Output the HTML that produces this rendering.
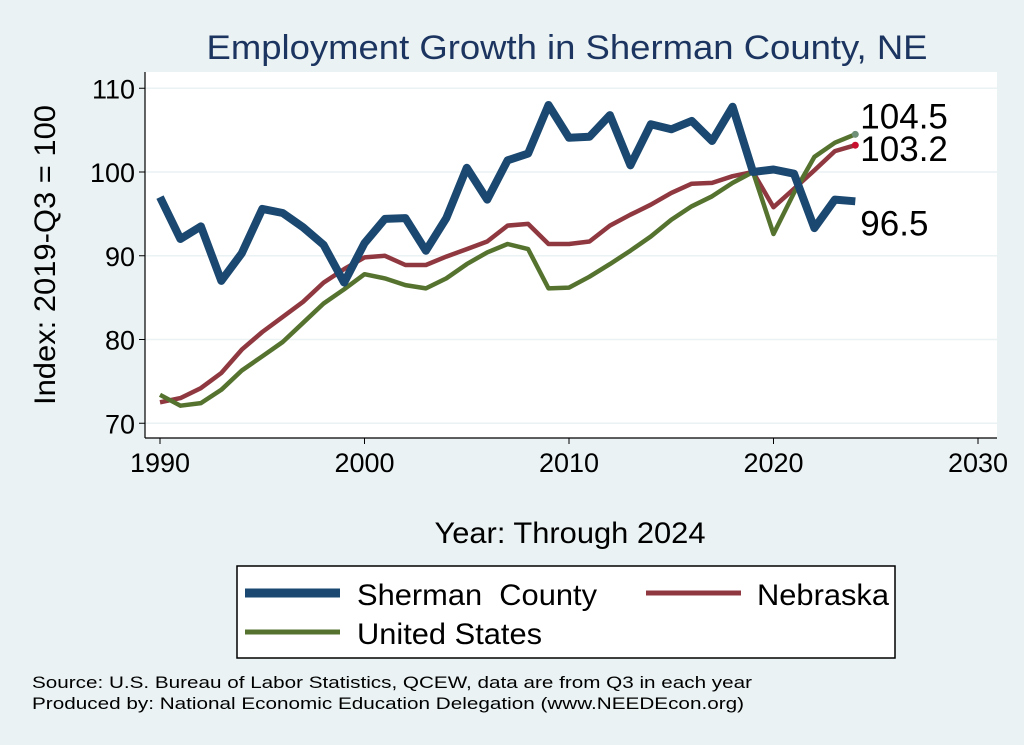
<!DOCTYPE html>
<html><head><meta charset="utf-8"><style>
body{margin:0;background:#eaf2f3;}
svg{display:block;font-family:"Liberation Sans",Arial,sans-serif;}
</style></head><body>
<svg id="chart" width="1024" height="745" viewBox="0 0 1024 745">
<rect x="0" y="0" width="1024" height="745" fill="#eaf2f3"/>
<text x="567" y="59" font-size="34" fill="#1c3560" text-anchor="middle" textLength="721" lengthAdjust="spacingAndGlyphs">Employment Growth in Sherman County, NE</text>
<rect x="145" y="72" width="852" height="366" fill="#fff"/>
<g id="grid"></g>
<g id="axes"></g>
<g id="series"></g>
<text transform="translate(55,255) rotate(-90)" font-size="30" text-anchor="middle" fill="#000" textLength="300" lengthAdjust="spacingAndGlyphs">Index: 2019-Q3 = 100</text>
<text x="570" y="543" font-size="30" text-anchor="middle" fill="#000" textLength="271" lengthAdjust="spacingAndGlyphs">Year: Through 2024</text>
<g>
<rect x="237" y="566" width="658" height="92" fill="#fff" stroke="#000" stroke-width="1.5"/>
<line x1="245" y1="593" x2="340" y2="593" stroke="#1a4870" stroke-width="9"/>
<text x="357" y="605" font-size="30" textLength="240" lengthAdjust="spacingAndGlyphs">Sherman&#160; County</text>
<line x1="646" y1="593" x2="741" y2="593" stroke="#903840" stroke-width="5"/>
<text x="757" y="605" font-size="30" textLength="132" lengthAdjust="spacingAndGlyphs">Nebraska</text>
<line x1="245" y1="632" x2="340" y2="632" stroke="#55732f" stroke-width="5"/>
<text x="357" y="644" font-size="30" textLength="185" lengthAdjust="spacingAndGlyphs">United States</text>
</g>
<text x="32" y="688" font-size="17" textLength="720" lengthAdjust="spacingAndGlyphs">Source: U.S. Bureau of Labor Statistics, QCEW, data are from Q3 in each year</text>
<text x="32" y="709" font-size="17" textLength="712" lengthAdjust="spacingAndGlyphs">Produced by: National Economic Education Delegation (www.NEEDEcon.org)</text>
</svg>
<script>
const years = [1990,1991,1992,1993,1994,1995,1996,1997,1998,1999,2000,2001,2002,2003,2004,2005,2006,2007,2008,2009,2010,2011,2012,2013,2014,2015,2016,2017,2018,2019,2020,2021,2022,2023,2024];
const sherman = [97,92,93.5,87,90.3,95.6,95.1,93.4,91.3,86.8,91.5,94.4,94.5,90.6,94.5,100.5,96.7,101.4,102.2,108,104.1,104.2,106.8,100.8,105.7,105.1,106.1,103.7,107.8,100,100.3,99.8,93.3,96.7,96.5];
const nebraska = [72.5,73.0,74.2,76.0,78.8,80.9,82.7,84.5,86.8,88.4,89.8,90.0,88.9,88.9,89.9,90.8,91.7,93.6,93.8,91.4,91.4,91.7,93.6,94.9,96.1,97.5,98.6,98.7,99.5,100,95.8,98.0,100.2,102.5,103.2];
const us = [73.4,72.1,72.4,74.0,76.3,78.0,79.7,82.0,84.3,86.0,87.8,87.3,86.5,86.1,87.3,89.0,90.4,91.4,90.8,86.1,86.2,87.5,89.0,90.6,92.3,94.3,95.9,97.1,98.7,100,92.6,97.5,101.8,103.5,104.5];
const xTicks = [1990,2000,2010,2020,2030];
const yTicks = [70,80,90,100,110];

const NS='http://www.w3.org/2000/svg';
const xS = v => 160 + (v-1990)*(978-160)/40;
const yS = v => 172 - (v-100)*8.375;
function mk(tag, attrs, parent){const e=document.createElementNS(NS,tag);for(const k in attrs)e.setAttribute(k,attrs[k]);parent.appendChild(e);return e;}
const grid=document.getElementById('grid'), axes=document.getElementById('axes'), series=document.getElementById('series');
yTicks.forEach(t=>{
  const g=mk('line',{x1:145,x2:997,y1:yS(t),y2:yS(t),stroke:'#eaf2f3','stroke-width':1.5},grid);
  
  
  const tk=mk('line',{x1:139,x2:145,y1:yS(t),y2:yS(t),stroke:'#000','stroke-width':1},axes);
  
  
  const lb=mk('text',{x:135,y:yS(t)+10,'font-size':27,'text-anchor':'end'},axes);
  lb.textContent=t;
  
  
});
xTicks.forEach(t=>{
  const tk=mk('line',{x1:xS(t),x2:xS(t),y1:438,y2:444,stroke:'#000','stroke-width':1},axes);
  
  
  const lb=mk('text',{x:xS(t),y:472,'font-size':27,'text-anchor':'middle'},axes);
  lb.textContent=t;
  
  
});
const ya=mk('line',{x1:145,x2:145,y1:72,y2:438,stroke:'#000','stroke-width':1.2},axes);


const xa=mk('line',{x1:145,x2:997,y1:438,y2:438,stroke:'#000','stroke-width':1.2},axes);



function line(vals,color,w,name){
  const d=vals.map((v,i)=>(i?'L':'M')+xS(years[i]).toFixed(1)+','+yS(v).toFixed(1)).join('');
  const p=mk('path',{d:d,fill:'none',stroke:color,'stroke-width':w,'stroke-linejoin':'round'},series);
  
  
}
line(nebraska,'#903840',4.5,'line-nebraska');
line(us,'#55732f',4.5,'line-us');
line(sherman,'#1a4870',8,'line-sherman');
const n=years.length-1, lx=xS(years[n]);
const d1=mk('circle',{cx:lx,cy:yS(us[n]),r:3.5,fill:'#6f8f77'},series);


const d2=mk('circle',{cx:lx,cy:yS(nebraska[n]),r:3.5,fill:'#c8102e'},series);


function lab(v,y,name){const t=mk('text',{x:lx+5,y:y,'font-size':35},series);t.textContent=v.toFixed(1);
  
  }
lab(us[n],yS(us[n])-6,'end-label-us');
lab(nebraska[n],yS(nebraska[n])+16,'end-label-nebraska');
lab(sherman[n],yS(sherman[n])+34,'end-label-sherman');
</script>
</body></html>
